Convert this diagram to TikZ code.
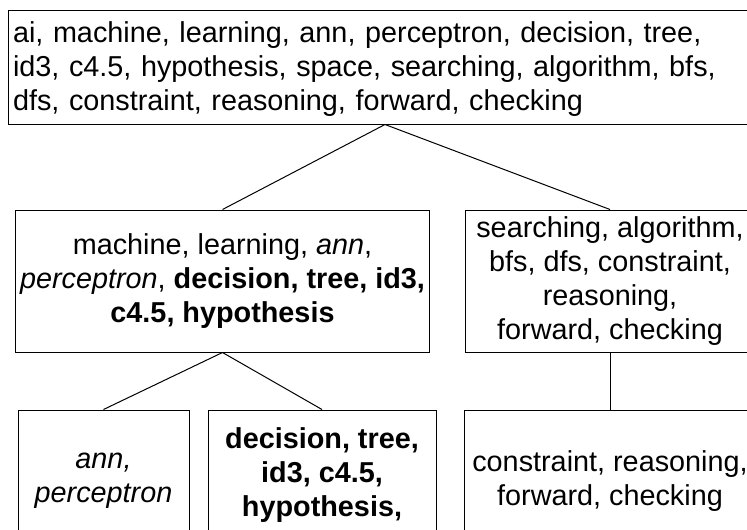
\documentclass[tikz,border=0pt]{standalone}
\usepackage{fontspec}
\setmainfont{Liberation Sans}
\newcommand\linestrut{\rule[-0.212em]{0pt}{1.117em}}
\begin{document}
\begin{tikzpicture}[x=1pt,y=-1pt,
  box/.style={draw, line width=1pt, rectangle, inner xsep=5pt, inner ysep=0pt, align=center,
    font=\fontsize{28.8}{34}\selectfont,
    execute at begin node=\linestrut, execute at end node=\linestrut},
  link/.style={line width=1pt}]
\useasboundingbox (0,0) rectangle (747,530);
\clip (0,0) rectangle (747,530);
\node[box, text width=744pt, minimum height=114pt, align=left] (top) at (385,67)
  {ai, machine, learning, ann, perceptron, decision, tree,\\
   id3, c4.5, hypothesis, space, searching, algorithm, bfs,\\
   dfs, constraint, reasoning, forward, checking};
\node[box, minimum width=409pt, minimum height=142pt] (ml) at (222.5,281)
  {machine, learning, \textit{ann},\\
   \textit{perceptron}, \textbf{decision, tree, id3,}\\
   \textbf{c4.5, hypothesis}};
\node[box, minimum width=290pt, minimum height=142pt] (mr) at (610,281)
  {searching, algorithm,\\ bfs, dfs, constraint,\\ reasoning,\\ forward, checking};
\node[box, minimum width=171pt, minimum height=142pt] (bl) at (103.5,481)
  {\textit{ann,}\\ \textit{perceptron}};
\node[box, minimum width=228pt, minimum height=130pt] (bm) at (322,475)
  {\textbf{decision, tree,}\\ \textbf{id3, c4.5,}\\ \textbf{hypothesis,}};
\node[box, minimum width=292pt, minimum height=142pt] (br) at (610,481)
  {constraint, reasoning,\\ forward, checking};
\draw[link] (top.south) -- (ml.north);
\draw[link] (top.south) -- (mr.north);
\draw[link] (ml.south) -- (bl.north);
\draw[link] (ml.south) -- (bm.north);
\draw[link] (mr.south) -- (br.north);
\end{tikzpicture}
\end{document}
